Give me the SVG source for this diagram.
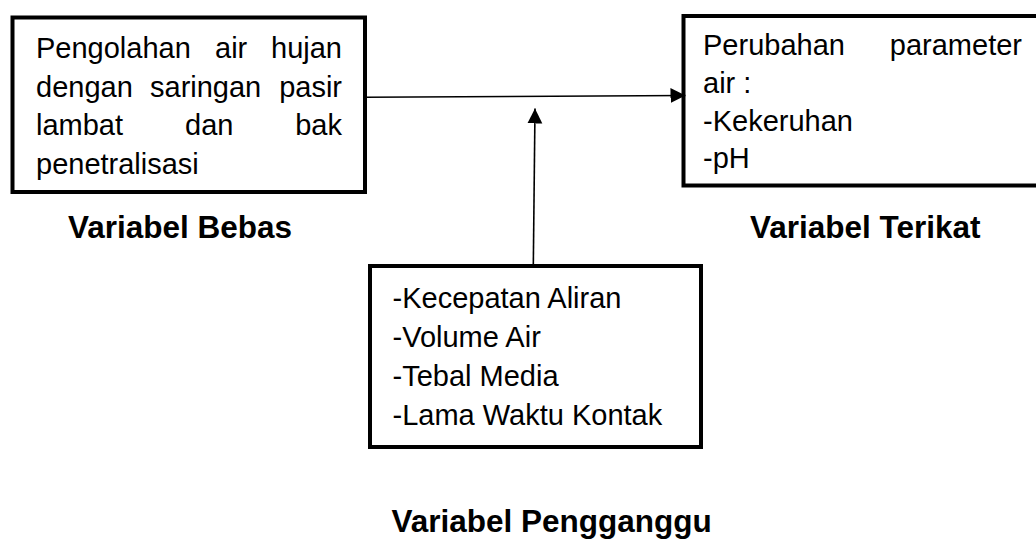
<svg xmlns="http://www.w3.org/2000/svg" width="1036" height="539" viewBox="0 0 1036 539">
  <style>
    .box { fill: #ffffff; stroke: #000000; stroke-width: 4; }
    .body { font-family: "Liberation Sans", Arial, sans-serif; font-size: 29px; fill: #000000; }
    .label { font-family: "Liberation Sans", Arial, sans-serif; font-size: 31.5px; font-weight: bold; fill: #000000; }
    .link { fill: none; stroke: #000000; stroke-width: 1.6; }
  </style>
  <defs>
    <marker id="arrow" viewBox="0 0 10 10" refX="10" refY="5" markerUnits="userSpaceOnUse" markerWidth="15" markerHeight="16" orient="auto">
      <path d="M0,0 L10,5 L0,10 Z" fill="#000000"/>
    </marker>
  </defs>

  <rect width="1036" height="539" fill="#ffffff"/>

  <!-- independent variable -->
  <g id="node-bebas">
    <rect class="box" x="12.5" y="17.5" width="352.5" height="174.5"/>
    <text class="body">
      <tspan x="36" y="58">Pengolahan</tspan>
      <tspan x="215" y="58">air</tspan>
      <tspan x="342" y="58" text-anchor="end">hujan</tspan>
    </text>
    <text class="body">
      <tspan x="36" y="97">dengan</tspan>
      <tspan x="150" y="97">saringan</tspan>
      <tspan x="342" y="97" text-anchor="end">pasir</tspan>
    </text>
    <text class="body">
      <tspan x="36" y="135">lambat</tspan>
      <tspan x="185" y="135">dan</tspan>
      <tspan x="342" y="135" text-anchor="end">bak</tspan>
    </text>
    <text class="body" x="36" y="174">penetralisasi</text>
    <text class="label" x="68" y="238">Variabel Bebas</text>
  </g>

  <!-- dependent variable -->
  <g id="node-terikat">
    <rect class="box" x="683.5" y="16" width="360" height="169.5"/>
    <text class="body">
      <tspan x="703" y="55">Perubahan</tspan>
      <tspan x="1022" y="55" text-anchor="end">parameter</tspan>
    </text>
    <text class="body" x="703" y="93">air :</text>
    <text class="body" x="703" y="131">-Kekeruhan</text>
    <text class="body" x="703" y="168">-pH</text>
    <text class="label" x="750" y="238">Variabel Terikat</text>
  </g>

  <!-- confounding variables -->
  <g id="node-pengganggu">
    <rect class="box" x="370" y="266" width="331" height="181"/>
    <text class="body" x="392.5" y="308">-Kecepatan Aliran</text>
    <text class="body" x="392.5" y="347">-Volume Air</text>
    <text class="body" x="392.5" y="386">-Tebal Media</text>
    <text class="body" x="392.5" y="425">-Lama Waktu Kontak</text>
    <text class="label" x="391.5" y="532">Variabel Pengganggu</text>
  </g>

  <g id="connectors">
    <line class="link" x1="365" y1="97.3" x2="685.5" y2="95.5" marker-end="url(#arrow)"/>
    <line class="link" x1="533.3" y1="266" x2="535" y2="108.5" marker-end="url(#arrow)"/>
  </g>
</svg>
